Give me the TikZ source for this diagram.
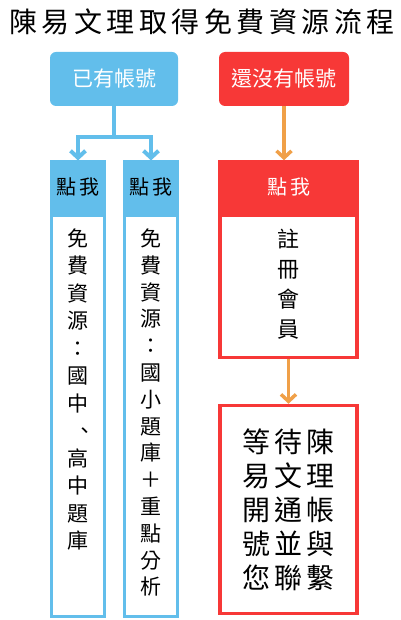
\documentclass[tikz,border=0pt]{standalone}
\usepackage{fontspec}
\setmainfont{Noto Sans CJK TC}
\usetikzlibrary{arrows.meta,positioning}
\definecolor{AcctBlue}{HTML}{62BEEB}
\definecolor{AcctRed}{HTML}{F73837}
\definecolor{AcctOrange}{HTML}{F0A048}
\newcommand{\cjksize}[2]{\fontsize{#1}{#2}\selectfont}
\tikzset{
  heading/.style={inner sep=0pt, font=\cjksize{28}{32}\addfontfeatures{LetterSpace=16}},
  start/.style={rounded corners=6pt, inner sep=0pt, minimum height=54pt,
                text=white, font=\cjksize{21}{25}},
  has/.style={start, fill=AcctBlue, minimum width=128pt},
  nohas/.style={start, fill=AcctRed, minimum width=130pt},
  clickhead/.style={inner sep=0pt, minimum height=50pt, font=\cjksize{20}{24}},
  bluehead/.style={clickhead, fill=AcctBlue, draw=AcctBlue, line width=3pt,
                   minimum width=53pt},
  redhead/.style={clickhead, fill=AcctRed, draw=AcctRed, line width=3.5pt,
                  minimum width=137pt, text=white},
  bluebody/.style={draw=AcctBlue, fill=white, line width=3pt, inner sep=0pt,
                   minimum width=53pt},
  redbody/.style={draw=AcctRed, fill=white, line width=3.5pt, inner sep=0pt,
                  minimum width=137pt},
  coltext/.style={inner sep=0pt, align=center, anchor=north, font=\cjksize{21}{27.5}},
  waittext/.style={inner sep=0pt, align=center,
                   font=\cjksize{28}{34}\addfontfeatures{LetterSpace=14}},
  blueflow/.style={draw=AcctBlue, line width=4pt},
  bluearrow/.style={blueflow, -{Straight Barb[length=7pt, width=15pt]}},
  orangearrow/.style={draw=AcctOrange, line width=3.5pt,
                      -{Straight Barb[length=7pt, width=15pt]}}
}
\begin{document}
\begin{tikzpicture}[x=1pt, y=-1pt, node distance=0pt]
  \useasboundingbox (0,0) rectangle (400,620);
  \node[heading] (title) at (202,22) {陳易文理取得免費資源流程};
  \node[has] (hasacct) at (114,79) {已有帳號};
  \node[nohas] (noacct) at (284,79) {還沒有帳號};

  % two blue columns
  \node[bluehead] (head1) at (78,187) {點\hspace{3pt}我};
  \node[bluebody, minimum height=401pt, below=of head1] (body1) {};
  \node[coltext] (text1) at ([yshift=-15pt]body1.north)
    {免\\費\\資\\源\\：\\國\\中\\\hspace{14pt}、\\高\\中\\題\\庫};
  \node[bluehead] (head2) at (151,187) {點\hspace{3pt}我};
  \node[bluebody, minimum height=401pt, below=of head2] (body2) {};
  \node[coltext, font=\cjksize{21}{26.8}] (text2) at ([yshift=-15pt]body2.north)
    {免\\費\\資\\源\\：\\國\\小\\題\\庫\\＋\\重\\點\\分\\析};

  % red column
  \node[redhead] (head3) at (288.5,187) {點\hspace{3pt}我};
  \node[redbody, minimum height=142pt, below=of head3] (body3) {};
  \node[coltext, font=\cjksize{22}{30}] (text3) at ([yshift=-15pt]body3.north)
    {註\\冊\\會\\員};
  \node[redbody, minimum height=208pt] (wait) at (288.5,509.5) {};
  \node[waittext] (text4) at ([xshift=0pt]wait.center)
    {等待陳\\易文理\\開通帳\\號並與\\您聯繫};

  \coordinate (split) at (hasacct.south |- 0,137);
  \draw[blueflow] (hasacct.south) -- (split);
  \draw[bluearrow] (split) -| (head1.north);
  \draw[bluearrow] (split) -| (head2.north);
  \draw[orangearrow] (noacct.south) -- (noacct.south |- head3.north);
  \draw[orangearrow] (body3.south) -- (wait.north);
\end{tikzpicture}
\end{document}
